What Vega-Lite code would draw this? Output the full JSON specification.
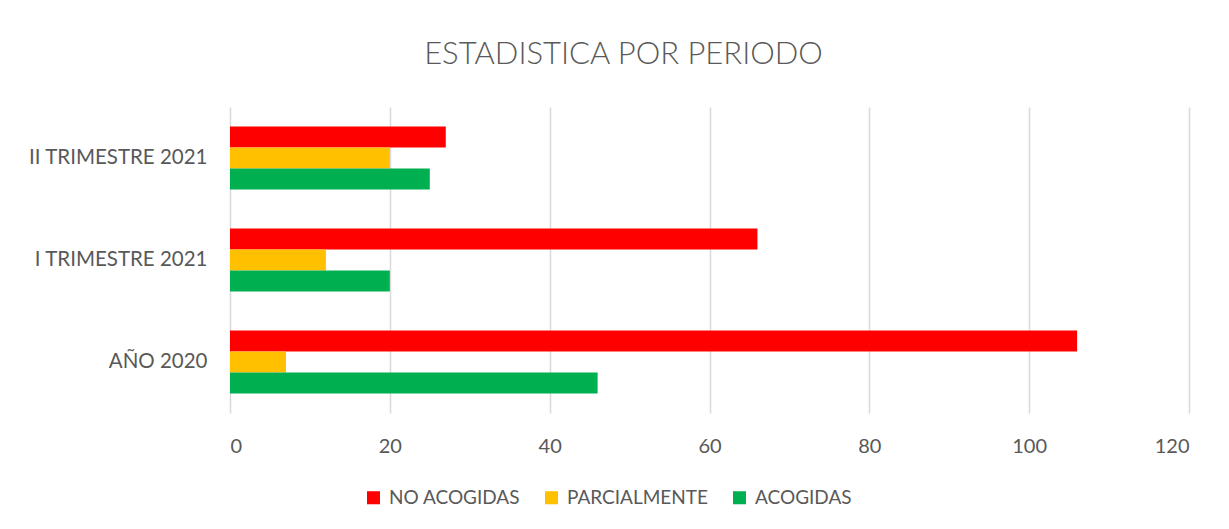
{
  "$schema": "https://vega.github.io/schema/vega-lite/v6.json",
  "width": 959,
  "height": 306,
  "autosize": {"type": "none"},
  "padding": {"left": 230, "top": 107, "right": 40, "bottom": 116},
  "background": "white",
  "title": {
    "text": "ESTADISTICA POR PERIODO",
    "font": "Lato",
    "fontSize": 31,
    "fontWeight": 300,
    "color": "#595959",
    "anchor": "middle",
    "dx": -86,
    "offset": 36
  },
  "data": {
    "values": [
      {"periodo": "II TRIMESTRE 2021", "serie": "NO ACOGIDAS", "valor": 27},
      {"periodo": "II TRIMESTRE 2021", "serie": "PARCIALMENTE", "valor": 20},
      {"periodo": "II TRIMESTRE 2021", "serie": "ACOGIDAS", "valor": 25},
      {"periodo": "I TRIMESTRE 2021", "serie": "NO ACOGIDAS", "valor": 66},
      {"periodo": "I TRIMESTRE 2021", "serie": "PARCIALMENTE", "valor": 12},
      {"periodo": "I TRIMESTRE 2021", "serie": "ACOGIDAS", "valor": 20},
      {"periodo": "AÑO 2020", "serie": "NO ACOGIDAS", "valor": 106},
      {"periodo": "AÑO 2020", "serie": "PARCIALMENTE", "valor": 7},
      {"periodo": "AÑO 2020", "serie": "ACOGIDAS", "valor": 46}
    ]
  },
  "mark": {"type": "bar", "stroke": null},
  "encoding": {
    "y": {
      "field": "periodo",
      "type": "nominal",
      "sort": ["II TRIMESTRE 2021", "I TRIMESTRE 2021", "AÑO 2020"],
      "scale": {"paddingInner": 0.38, "paddingOuter": 0.19},
      "axis": {
        "title": null,
        "domain": false,
        "ticks": false,
        "labelPadding": 23,
        "labelFont": "Lato",
        "labelFontSize": 20.5,
        "labelColor": "#595959"
      }
    },
    "yOffset": {
      "field": "serie",
      "type": "nominal",
      "sort": ["NO ACOGIDAS", "PARCIALMENTE", "ACOGIDAS"],
      "scale": {"paddingInner": 0, "paddingOuter": 0}
    },
    "x": {
      "field": "valor",
      "type": "quantitative",
      "scale": {"domain": [0, 120], "nice": false},
      "axis": {
        "title": null,
        "values": [0, 20, 40, 60, 80, 100, 120],
        "domain": false,
        "ticks": false,
        "grid": true,
        "gridColor": "#D9D9D9",
        "gridWidth": 1.5,
        "labelPadding": 23,
        "labelFont": "Lato",
        "labelFontSize": 20,
        "labelColor": "#595959"
      }
    },
    "color": {
      "field": "serie",
      "type": "nominal",
      "sort": ["NO ACOGIDAS", "PARCIALMENTE", "ACOGIDAS"],
      "scale": {
        "domain": ["NO ACOGIDAS", "PARCIALMENTE", "ACOGIDAS"],
        "range": ["#FF0000", "#FFC000", "#00B050"]
      },
      "legend": {
        "title": null,
        "orient": "none",
        "direction": "horizontal",
        "legendX": 134,
        "legendY": 381,
        "symbolType": "square",
        "symbolSize": 170,
        "symbolStrokeWidth": 0,
        "symbolOpacity": 1,
        "labelFont": "Lato",
        "labelFontSize": 19,
        "labelColor": "#595959",
        "labelOffset": 6,
        "columnPadding": 21
      }
    }
  },
  "config": {
    "view": {"stroke": null}
  }
}
